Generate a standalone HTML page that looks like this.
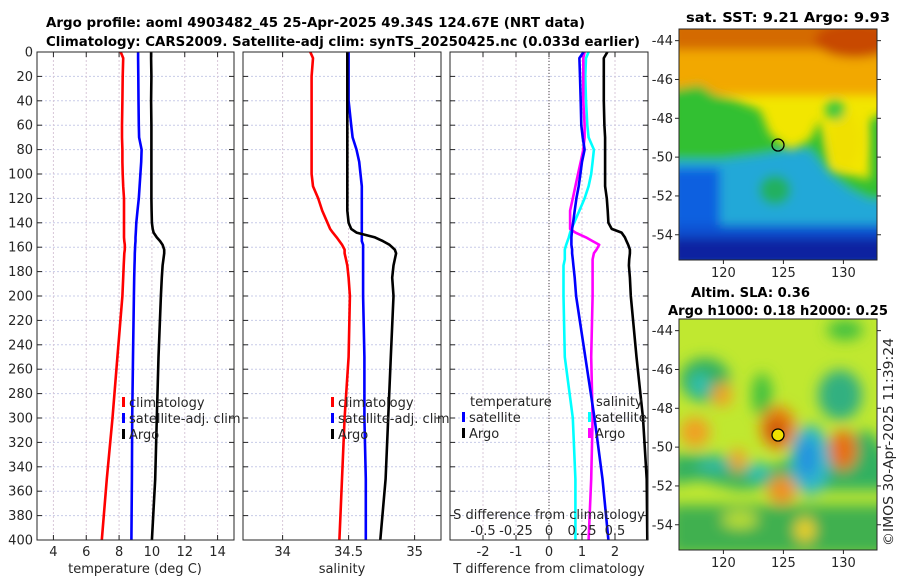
<!DOCTYPE html>
<html><head><meta charset="utf-8">
<style>
body{margin:0;background:#fff;}
svg{display:block;font-family:"DejaVu Sans","Liberation Sans",sans-serif;}
.t{font-size:13px;fill:#262626;}
.b{font-weight:bold;font-size:13px;fill:#000;}
</style></head>
<body>
<svg id="fig" width="900" height="580" viewBox="0 0 900 580" xmlns="http://www.w3.org/2000/svg">
<defs>
<filter id="bl" x="-20%" y="-20%" width="140%" height="140%"><feGaussianBlur stdDeviation="5"/></filter>
<filter id="bl2" x="-20%" y="-20%" width="140%" height="140%"><feGaussianBlur stdDeviation="7"/></filter>
<clipPath id="c1"><rect x="679" y="29" width="198" height="231"/></clipPath>
<clipPath id="c2"><rect x="679" y="319" width="198" height="231"/></clipPath>
</defs>
<text class="b" x="46" y="27" textLength="539" lengthAdjust="spacingAndGlyphs">Argo profile: aoml 4903482_45 25-Apr-2025 49.34S 124.67E (NRT data)</text>
<text class="b" x="46" y="46" textLength="594" lengthAdjust="spacingAndGlyphs">Climatology: CARS2009. Satellite-adj clim: synTS_20250425.nc (0.033d earlier)</text>

<!-- SST map -->
<g clip-path="url(#c1)">
<rect x="679" y="29" width="198" height="231" fill="#f2e600"/>
<g filter="url(#bl)">
<rect x="670" y="20" width="220" height="75" fill="#f2a800"/>
<rect x="670" y="20" width="220" height="30" fill="#d46a00"/>
<ellipse cx="855" cy="40" rx="40" ry="18" fill="#c84a00"/>
<polygon points="670,90 700,85 715,95 735,100 760,110 770,135 790,150 810,140 820,120 830,170 870,180 870,120 890,110 890,270 670,270" fill="#30c030"/>
<ellipse cx="845" cy="140" rx="15" ry="28" fill="#f0e000"/>
<ellipse cx="835" cy="110" rx="10" ry="10" fill="#40c840"/>
<polygon points="670,160 720,160 760,155 790,150 810,150 830,175 850,190 870,200 890,200 890,270 670,270" fill="#20a8d8"/>
<rect x="670" y="168" width="50" height="100" fill="#1060e0"/>
<ellipse cx="775" cy="190" rx="16" ry="15" fill="#20b060"/>
<rect x="670" y="225" width="230" height="40" fill="#1050d0"/>
<rect x="670" y="238" width="230" height="30" fill="#0a20a0"/>
</g>
</g>
<rect x="679" y="29" width="198" height="231" fill="none" stroke="#262626"/>
<circle cx="778" cy="145" r="6" fill="none" stroke="#000" stroke-width="1.3"/>
<text class="b" x="686" y="22" textLength="204" lengthAdjust="spacingAndGlyphs">sat. SST: 9.21 Argo: 9.93</text>

<!-- SLA map -->
<g clip-path="url(#c2)">
<rect x="679" y="319" width="198" height="231" fill="#c0e830"/>
<g filter="url(#bl2)">
<ellipse cx="705" cy="380" rx="25" ry="22" fill="#30b060"/>
<ellipse cx="700" cy="385" rx="10" ry="12" fill="#30c0b0"/>
<ellipse cx="840" cy="395" rx="22" ry="25" fill="#30b080"/>
<ellipse cx="762" cy="395" rx="10" ry="22" fill="#40c040"/>
<ellipse cx="845" cy="330" rx="18" ry="10" fill="#40c040"/>
<polygon points="670,455 720,455 760,470 790,460 830,440 870,430 890,460 890,490 820,490 780,485 740,490 700,480 670,485" fill="#30b060"/>
<ellipse cx="810" cy="460" rx="20" ry="35" fill="#30b8c8"/>
<ellipse cx="807" cy="458" rx="10" ry="20" fill="#2090e0"/>
<ellipse cx="758" cy="472" rx="12" ry="10" fill="#30c0b0"/>
<ellipse cx="715" cy="465" rx="18" ry="8" fill="#30b8a0"/>
<rect x="670" y="505" width="230" height="50" fill="#40b050"/>
<ellipse cx="778" cy="428" rx="18" ry="22" fill="#e88010"/>
<ellipse cx="776" cy="430" rx="8" ry="10" fill="#c04010"/>
<ellipse cx="843" cy="450" rx="14" ry="20" fill="#e87010"/>
<ellipse cx="695" cy="432" rx="15" ry="15" fill="#f0a020"/>
<ellipse cx="722" cy="395" rx="10" ry="12" fill="#f0a020"/>
<ellipse cx="738" cy="460" rx="8" ry="12" fill="#f0a020"/>
<ellipse cx="782" cy="490" rx="14" ry="14" fill="#f09020"/>
<ellipse cx="805" cy="530" rx="10" ry="12" fill="#f0d020"/>
<ellipse cx="740" cy="520" rx="18" ry="8" fill="#c0e030"/>
</g>
</g>
<rect x="679" y="319" width="198" height="231" fill="none" stroke="#262626"/>
<circle cx="778" cy="435" r="6" fill="#f0e000" stroke="#000" stroke-width="1.3"/>
<text class="b" x="691" y="297" textLength="119" lengthAdjust="spacingAndGlyphs">Altim. SLA: 0.36</text>
<text class="b" x="668" y="315" textLength="220" lengthAdjust="spacingAndGlyphs">Argo h1000: 0.18 h2000: 0.25</text>
<text class="t" transform="translate(893,546) rotate(-90)" textLength="208" lengthAdjust="spacingAndGlyphs">©IMOS 30-Apr-2025 11:39:24</text>

<g id="axes"></g>
</svg>
<script>
const NS="http://www.w3.org/2000/svg";
const depths=[0,5,20,40,60,70,80,90,100,110,120,130,140,145,148,152,155,158,162,165,170,175,185,200,250,300,350,400];
// panel 1 temperature
const tempClim=[8.1,8.25,8.22,8.2,8.18,8.18,8.2,8.2,8.22,8.25,8.3,8.3,8.3,8.3,8.3,8.3,8.32,8.35,8.35,8.32,8.3,8.28,8.25,8.2,7.9,7.6,7.25,6.95];
const tempSat=[9.16,9.16,9.17,9.18,9.2,9.22,9.37,9.35,9.3,9.25,9.2,9.12,9.05,9.03,9.02,9.0,9.0,8.98,8.97,8.96,8.95,8.94,8.92,8.9,8.85,8.8,8.78,8.75];
const tempArgo=[9.95,9.95,9.97,9.95,9.97,9.97,9.97,9.97,9.97,9.97,9.97,9.98,10.0,10.05,10.1,10.3,10.5,10.65,10.75,10.75,10.7,10.65,10.6,10.55,10.4,10.3,10.2,10.0];
// panel 2 salinity
const salClim=[34.21,34.23,34.22,34.22,34.22,34.22,34.22,34.22,34.22,34.23,34.27,34.3,34.34,34.36,34.38,34.41,34.43,34.45,34.47,34.47,34.48,34.49,34.5,34.51,34.5,34.47,34.45,34.43];
const salSat=[34.5,34.5,34.5,34.5,34.52,34.53,34.56,34.58,34.59,34.6,34.6,34.6,34.6,34.6,34.6,34.6,34.6,34.61,34.61,34.61,34.61,34.61,34.61,34.61,34.62,34.62,34.63,34.63];
const salArgo=[34.49,34.49,34.49,34.49,34.49,34.49,34.49,34.49,34.49,34.49,34.49,34.49,34.5,34.52,34.56,34.7,34.76,34.81,34.85,34.86,34.85,34.84,34.83,34.84,34.82,34.8,34.78,34.74];
// panel 3 differences
const dTsat=[1.05,0.92,0.94,0.96,0.98,1.02,1.08,1.0,0.95,0.9,0.83,0.78,0.73,0.7,0.69,0.68,0.68,0.68,0.7,0.7,0.72,0.74,0.78,0.82,1.1,1.38,1.62,1.8];
const dTargo=[1.77,1.66,1.66,1.66,1.68,1.7,1.7,1.7,1.7,1.7,1.75,1.78,1.8,1.9,2.2,2.3,2.35,2.4,2.45,2.45,2.43,2.42,2.45,2.48,2.65,2.85,2.96,2.98];
const dSsat=[0.3,0.28,0.275,0.28,0.29,0.3,0.34,0.33,0.32,0.3,0.27,0.23,0.19,0.17,0.16,0.15,0.14,0.13,0.12,0.12,0.12,0.11,0.11,0.11,0.12,0.18,0.2,0.2];
const dSargo=[0.27,0.26,0.26,0.26,0.27,0.27,0.26,0.24,0.22,0.2,0.18,0.16,0.16,0.16,0.2,0.28,0.33,0.38,0.36,0.34,0.33,0.33,0.33,0.33,0.32,0.33,0.32,0.3];
const yTicks=[0,20,40,60,80,100,120,140,160,180,200,220,240,260,280,300,320,340,360,380,400];
const tTicks=[4,6,8,10,12,14];
const sTicks=[34,34.5,35];
const dTTicks=[-2,-1,0,1,2];
const dSTicks=[-0.5,-0.25,0,0.25,0.5];
const dSTickLabels=["-0.5","-0.25","0","0.25","0.5"];
const lonTicks=[120,125,130];
const latTicks=[-44,-46,-48,-50,-52,-54];

const Y0=52,Y1=540;
const yScale=d=>Y0+(d/400)*(Y1-Y0);
const mk=(tag,attrs,parent,text)=>{const e=document.createElementNS(NS,tag);for(const k in attrs)e.setAttribute(k,attrs[k]);if(text!==undefined)e.textContent=text;(parent||G).appendChild(e);return e;};
const G=document.getElementById('axes');
const panels=[
 {x0:37,x1:234,min:3,max:15,name:'temperature-panel'},
 {x0:243,x1:441,min:33.7,max:35.2,name:'salinity-panel'},
 {x0:450,x1:648,min:-3,max:3,name:'difference-panel'}];
panels.forEach(p=>{p.sc=v=>p.x0+(v-p.min)/(p.max-p.min)*(p.x1-p.x0);});
const sDiff=v=>panels[2].x0+(v+0.75)/1.5*(panels[2].x1-panels[2].x0);

function grid(p,ticks){
 const g=mk('g',{});
 
 
 yTicks.forEach(t=>{const l=mk('line',{x1:p.x0,x2:p.x1,y1:yScale(t),y2:yScale(t),stroke:'#c8cce8','stroke-dasharray':'2,2','stroke-width':1},g);
  mk('line',{x1:p.x0,x2:p.x0+5,y1:yScale(t),y2:yScale(t),stroke:'#262626'},g);mk('line',{x1:p.x1,x2:p.x1-5,y1:yScale(t),y2:yScale(t),stroke:'#262626'},g);});
 ticks.forEach(t=>{const x=p.sc(t);const l=mk('line',{x1:x,x2:x,y1:Y0,y2:Y1,stroke:'#d8c8d8','stroke-dasharray':'2,2'},g);
  mk('line',{x1:x,x2:x,y1:Y1,y2:Y1-5,stroke:'#262626'},g);mk('line',{x1:x,x2:x,y1:Y0,y2:Y0+5,stroke:'#262626'},g);
  const tx=mk('text',{x:x,y:556,'text-anchor':'middle',class:'t'},g,String(t));});
 return g;
}
const g1=grid(panels[0],tTicks);
const g2=grid(panels[1],sTicks);
const g3=grid(panels[2],dTTicks);
yTicks.forEach(t=>{const tx=mk('text',{x:33,y:yScale(t)+4.5,'text-anchor':'end',class:'t'},G,String(t));});
const z=mk('line',{x1:panels[2].sc(0),x2:panels[2].sc(0),y1:Y0,y2:Y1,stroke:'#444','stroke-dasharray':'1,2'},g3);


function series(vals,sc,color,name,parent){
 const pts=depths.map((d,i)=>sc(vals[i]).toFixed(1)+','+yScale(d).toFixed(1)).join(' ');
 const pl=mk('polyline',{points:pts,fill:'none',stroke:color,'stroke-width':2.6,'stroke-linejoin':'round'},parent);
 
 
}
series(tempClim,panels[0].sc,'#ff0000','temp-climatology-line',g1);
series(tempSat,panels[0].sc,'#0000ff','temp-satellite-line',g1);
series(tempArgo,panels[0].sc,'#000','temp-argo-line',g1);
series(salClim,panels[1].sc,'#ff0000','sal-climatology-line',g2);
series(salSat,panels[1].sc,'#0000ff','sal-satellite-line',g2);
series(salArgo,panels[1].sc,'#000','sal-argo-line',g2);
series(dSsat,sDiff,'#00ffff','sdiff-satellite-line',g3);
series(dSargo,sDiff,'#ff00ff','sdiff-argo-line',g3);
series(dTsat,panels[2].sc,'#0000ff','tdiff-satellite-line',g3);
series(dTargo,panels[2].sc,'#000','tdiff-argo-line',g3);

panels.forEach(p=>{const r=mk('rect',{x:p.x0,y:Y0,width:p.x1-p.x0,height:Y1-Y0,fill:'none',stroke:'#262626'});});

dSTicks.forEach((t,i)=>{const tx=mk('text',{x:sDiff(t),y:535,'text-anchor':'middle',class:'t'},g3,dSTickLabels[i]);});
const st=mk('text',{x:549,y:519,'text-anchor':'middle',class:'t'},g3,'S difference from climatology');

[[135,'temperature (deg C)','x-axis-title-temperature'],[342,'salinity','x-axis-title-salinity'],[549,'T difference from climatology','x-axis-title-tdiff']].forEach(a=>{const tx=mk('text',{x:a[0],y:573,'text-anchor':'middle',class:'t'},G,a[1]);});

function legend(x,y,color,label,parent){
 const g=mk('g',{},parent);
 
 
 mk('rect',{x:x,y:y-10,width:3,height:10,fill:color},g);
 mk('text',{x:x+7,y:y,class:'t'},g,label);
}
legend(122,407,'#ff0000','climatology',g1);legend(122,423,'#0000ff','satellite-adj. clim',g1);legend(122,439,'#000','Argo',g1);
legend(331,407,'#ff0000','climatology',g2);legend(331,423,'#0000ff','satellite-adj. clim',g2);legend(331,439,'#000','Argo',g2);
const lh=mk('text',{x:470,y:406,class:'t'},g3,'temperature');
const lh2=mk('text',{x:596,y:406,class:'t'},g3,'salinity');
legend(462,422,'#0000ff','satellite',g3);legend(462,438,'#000','Argo',g3);
legend(588,422,'#00ffff','satellite',g3);legend(588,438,'#ff00ff','Argo',g3);

function mapAxes(yTop,yBot,latTop,latBot){
 const lx=v=>679+(v-116.3)/(132.8-116.3)*198;
 const ly=v=>yTop+(latTop-v)/(latTop-latBot)*(yBot-yTop);
 lonTicks.forEach(t=>{mk('line',{x1:lx(t),x2:lx(t),y1:yBot,y2:yBot+4,stroke:'#262626'});
  const tx=mk('text',{x:lx(t),y:yBot+17,'text-anchor':'middle',class:'t'},G,String(t));});
 latTicks.forEach(t=>{mk('line',{x1:675,x2:679,y1:ly(t),y2:ly(t),stroke:'#262626'});mk('line',{x1:877,x2:881,y1:ly(t),y2:ly(t),stroke:'#262626'});
  const tx=mk('text',{x:673,y:ly(t)+4.5,'text-anchor':'end',class:'t'},G,String(t));});
}
mapAxes(29,260,-43.4,-55.3);
mapAxes(319,550,-43.4,-55.3);
</script>
</body></html>
